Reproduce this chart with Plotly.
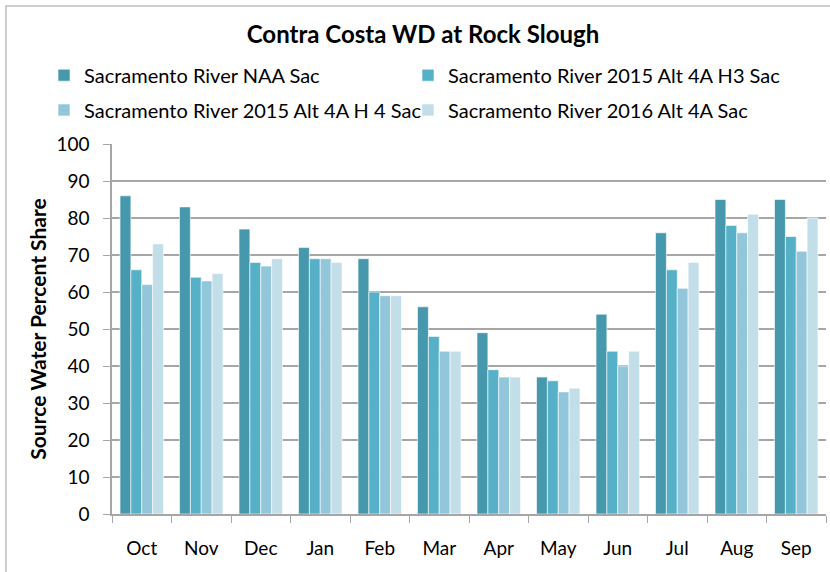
import plotly.graph_objects as go

# data
months = ["Oct", "Nov", "Dec", "Jan", "Feb", "Mar", "Apr", "May", "Jun", "Jul", "Aug", "Sep"]
naa = [86, 83, 77, 72, 69, 56, 49, 37, 54, 76, 85, 85]
alt_2015_h3 = [66, 64, 68, 69, 60, 48, 39, 36, 44, 66, 78, 75]
alt_2015_h4 = [62, 63, 67, 69, 59, 44, 37, 33, 40, 61, 76, 71]
alt_2016 = [73, 65, 69, 68, 59, 44, 37, 34, 44, 68, 81, 80]

series_names = [
    "Sacramento River NAA Sac",
    "Sacramento River 2015 Alt 4A H3 Sac",
    "Sacramento River 2015 Alt 4A H 4 Sac",
    "Sacramento River 2016 Alt 4A Sac",
]
series_values = [naa, alt_2015_h3, alt_2015_h4, alt_2016]
colors = ["#4698AD", "#56B0C8", "#92C6DA", "#C2DEE9"]

FONT = "Lato"

# one legend per entry so the 2x2 grid sits where the reference has it
legend_ids = ["legend", "legend2", "legend3", "legend4"]
legend_pos = [(-0.0952, 1.186), (0.4146, 1.186), (-0.0952, 1.092), (0.4146, 1.092)]

fig = go.Figure()
for name, vals, col, lg in zip(series_names, series_values, colors, legend_ids):
    fig.add_trace(go.Bar(
        x=months, y=vals, name=name,
        marker=dict(color=col, line=dict(color="white", width=0.6)),
        legend=lg,
    ))

legend_style = dict(
    orientation="h", xanchor="left", yanchor="middle",
    font=dict(family=FONT, size=20, color="black"),
    bgcolor="rgba(0,0,0,0)", itemclick=False, itemdoubleclick=False,
)
legend_layout = {}
for lg, (lx, ly) in zip(legend_ids, legend_pos):
    legend_layout[lg] = dict(x=lx, y=ly, **legend_style)

fig.update_layout(
    width=830, height=572,
    margin=dict(l=112, r=4, t=144, b=58),
    paper_bgcolor="white", plot_bgcolor="white",
    barmode="group", bargap=0.27, bargroupgap=0,
    font=dict(family=FONT, color="black"),
    title=dict(text="<b>Contra Costa WD at Rock Slough</b>",
               x=423 / 830, xanchor="center", y=1 - 35 / 572, yanchor="middle",
               font=dict(family=FONT, size=24, color="black")),
    showlegend=True,
    **legend_layout,
)

fig.update_xaxes(
    type="category", tickson="boundaries", ticks="outside", ticklen=7,
    tickcolor="#A6A6A6", showline=True, linecolor="#A6A6A6", linewidth=1.5,
    showgrid=False, automargin=False, ticklabelstandoff=16,
    tickfont=dict(family=FONT, size=19, color="black"),
)
fig.update_yaxes(
    range=[0, 100], dtick=10, ticks="outside", ticklen=7, tickcolor="#A6A6A6",
    showline=True, linecolor="#A6A6A6", linewidth=1.5,
    showgrid=True, gridcolor="#A6A6A6", gridwidth=1.5, zeroline=False,
    automargin=False, ticklabelstandoff=10,
    tickfont=dict(family=FONT, size=19, color="black"),
    title=dict(text="<b>Source Water Percent Share</b>", standoff=4,
               font=dict(family=FONT, size=21, color="black")),
)

# chart-area border (left and top edges visible in the reference)
fig.add_shape(type="rect", xref="paper", yref="paper",
              x0=(6 - 112) / 714, x1=1.2, y0=-0.3, y1=(514 - 6) / 370,
              line=dict(color="#BFBFBF", width=1.5), fillcolor="rgba(0,0,0,0)",
              layer="below")

fig.write_html("out.html", config={"displayModeBar": False},
               post_script="document.body.style.margin='0';")
